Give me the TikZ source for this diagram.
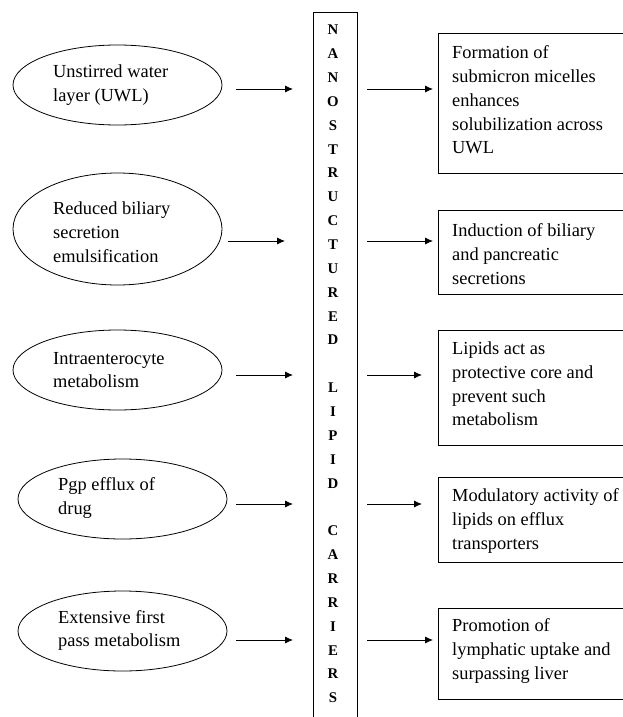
\documentclass[tikz,border=0pt]{standalone}
\usepackage{fontspec}
\setmainfont{Liberation Serif}
\usetikzlibrary{shapes.geometric,arrows.meta}
\begin{document}
\begin{tikzpicture}[x=1pt,y=-1pt,
  oval/.style={draw,ellipse,inner sep=0pt,line width=0.8pt,minimum width=209pt,minimum height=80pt},
  txt/.style={anchor=west,inner sep=0pt,align=left,font=\fontsize{18.4}{23.8}\selectfont},
  rbox/.style={draw,line width=0.9pt,anchor=north west,inner sep=0pt,minimum width=220pt},
  arr/.style={-{Latex[length=8pt,width=7pt]},line width=0.8pt}]
\useasboundingbox (0,0) rectangle (623,717);
\begin{scope}
\clip (0,0) rectangle (623,717);
% central vertical box
\node[draw,line width=0.9pt,anchor=north west,inner sep=0pt,minimum width=44pt,minimum height=730pt] (vbox) at (313,12) {};
\node[inner sep=0pt,align=center,font=\fontsize{14.8}{23.86}\selectfont\bfseries] (letters) at (333,364)
 {N\\A\\N\\O\\S\\T\\R\\U\\C\\T\\U\\R\\E\\D\\[23.86pt]L\\I\\P\\I\\D\\[23.86pt]C\\A\\R\\R\\I\\E\\R\\S};
% left ellipses
\node[oval] (e1) at (117.5,85) {};
\node[oval,minimum height=112pt] (e2) at (117.5,229) {};
\node[oval] (e3) at (117.5,370) {};
\node[oval] (e4) at (122.5,499) {};
\node[oval] (e5) at (122.5,631) {};
\node[txt] (t1) at (53,85) {Unstirred water\\layer (UWL)};
\node[txt] (t2) at (53,232.5) {Reduced biliary\\secretion\\emulsification};
\node[txt] (t3) at (53,370) {Intraenterocyte\\metabolism};
\node[txt] (t4) at (58,498) {Pgp efflux of\\drug};
\node[txt] (t5) at (58,630.5) {Extensive first\\pass metabolism};
% right boxes
\node[rbox,minimum height=140pt] (b1) at (438,33) {};
\node[rbox,minimum height=84pt] (b2) at (438,210) {};
\node[rbox,minimum height=115pt] (b3) at (438,330) {};
\node[rbox,minimum height=85pt] (b4) at (438,477) {};
\node[rbox,minimum height=91pt] (b5) at (438,608) {};
\node[txt] (r1) at (452,100) {Formation of\\submicron micelles\\enhances\\solubilization across\\UWL};
\node[txt] (r2) at (452,254) {Induction of biliary\\and pancreatic\\secretions};
\node[txt] (r3) at (452,384) {Lipids act as\\protective core and\\prevent such\\metabolism};
\node[txt] (r4) at (452,521) {Modulatory activity of\\lipids on efflux\\transporters};
\node[txt] (r5) at (452,651) {Promotion of\\lymphatic uptake and\\surpassing liver};
% arrow coordinates
\coordinate (l1s) at (236,89);  \coordinate (l1e) at (293,89);
\coordinate (l2s) at (228,241); \coordinate (l2e) at (285,241);
\coordinate (l3s) at (236,375); \coordinate (l3e) at (293,375);
\coordinate (l4s) at (236,504); \coordinate (l4e) at (293,504);
\coordinate (l5s) at (236,640); \coordinate (l5e) at (293,640);
\coordinate (r1s) at (367,89);  \coordinate (r1e) at (433,89);
\coordinate (r2s) at (367,241); \coordinate (r2e) at (433,241);
\coordinate (r3s) at (367,375); \coordinate (r3e) at (422,375);
\coordinate (r4s) at (367,504); \coordinate (r4e) at (422,504);
\coordinate (r5s) at (367,640); \coordinate (r5e) at (433,640);
\foreach \a in {l1,l2,l3,l4,l5,r1,r2,r3,r4,r5}
  \draw[arr] (\a s) -- (\a e);
\end{scope}
\end{tikzpicture}
\end{document}
